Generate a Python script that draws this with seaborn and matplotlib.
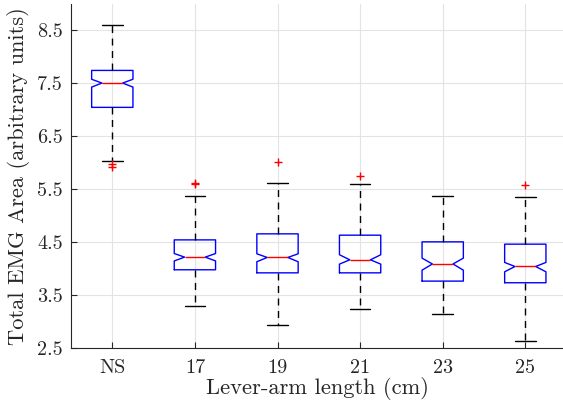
import matplotlib
matplotlib.use("Agg")
import matplotlib.pyplot as plt
import seaborn as sns

categories = ["NS", "17", "19", "21", "23", "25"]
medians = [7.506, 4.217, 4.211, 4.166, 4.088, 4.040]
q1 = [7.047, 3.978, 3.920, 3.920, 3.764, 3.733]
q3 = [7.745, 4.543, 4.657, 4.632, 4.506, 4.462]
whisk_lo = [6.040, 3.287, 2.940, 3.236, 3.135, 2.640]
whisk_hi = [8.600, 5.374, 5.620, 5.607, 5.374, 5.349]
ci_lo = [7.430, 4.145, 4.130, 4.085, 3.970, 3.940]
ci_hi = [7.578, 4.285, 4.280, 4.262, 4.198, 4.117]
outliers = [[5.97, 5.92], [5.62, 5.595], [6.015], [5.745], [], [5.575]]
yticks = [2.5, 3.5, 4.5, 5.5, 6.5, 7.5, 8.5]

sns.set_theme(style="whitegrid")
plt.rcParams["font.family"] = ["cmr10", "DejaVu Serif"]
plt.rcParams["axes.formatter.use_mathtext"] = True
plt.rcParams["mathtext.fontset"] = "cm"

fig = plt.figure(figsize=(5.63, 4.09), dpi=100)
ax = fig.add_axes([71 / 563, 61 / 409, 1 - 71 / 563, 344 / 409])

stats = []
for i, c in enumerate(categories):
    stats.append(dict(label=c, med=medians[i], q1=q1[i], q3=q3[i],
                      whislo=whisk_lo[i], whishi=whisk_hi[i],
                      cilo=ci_lo[i], cihi=ci_hi[i], fliers=outliers[i]))

ax.bxp(stats, positions=range(1, len(categories) + 1), widths=0.5,
       shownotches=True, showfliers=True,
       boxprops=dict(color="#0000ff", linewidth=1.0),
       medianprops=dict(color="#ff0000", linewidth=1.0),
       whiskerprops=dict(color="black", linestyle=(0, (5, 4)), linewidth=1.0),
       capprops=dict(color="black", linewidth=1.0),
       flierprops=dict(marker="+", markeredgecolor="#ff0000", markersize=6,
                       markeredgewidth=1.0, linestyle="none"))

ax.set_xlim(0.5, 0.5 + 492 / 82.6)
ax.set_ylim(2.5, 9.0)
ax.set_yticks(yticks)
ax.set_yticklabels([f"{t:.1f}" for t in yticks])
ax.set_xticks(range(1, len(categories) + 1))
ax.set_xticklabels(categories)

ax.grid(True, color="#e3e3e3", linewidth=0.8)
ax.set_axisbelow(True)
ax.set_facecolor("white")
for s in ["top", "right"]:
    ax.spines[s].set_visible(False)
for s in ["left", "bottom"]:
    ax.spines[s].set_visible(True)
    ax.spines[s].set_color("#262626")
    ax.spines[s].set_linewidth(0.8)
ax.tick_params(axis="both", direction="in", length=4, width=0.8,
               colors="#262626", labelsize=14.5, pad=6, left=True, bottom=True)
ax.tick_params(axis="x", pad=8)
for lab in ax.get_xticklabels() + ax.get_yticklabels():
    lab.set_color("#262626")

ax.set_xlabel("Lever-arm length (cm)", fontsize=16.2, color="#262626", labelpad=0)
ax.set_ylabel("Total EMG Area (arbitrary units)", fontsize=16.2, color="#262626", labelpad=5)

fig.savefig("out.png", dpi=100)
